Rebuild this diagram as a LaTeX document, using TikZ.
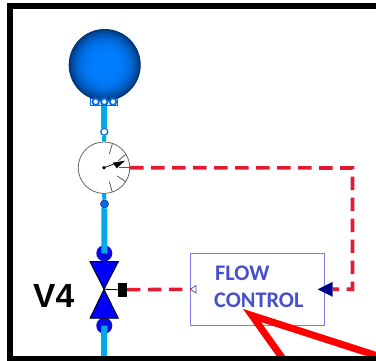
\documentclass[tikz,border=0pt]{standalone}
\usepackage{fontspec}
\setmainfont{Carlito}
\newfontfamily\labelfont{Liberation Sans}
\definecolor{pipeblue}{RGB}{0,170,232}
\definecolor{valveblue}{RGB}{0,0,255}
\definecolor{ringblue}{RGB}{10,10,225}
\definecolor{dashred}{RGB}{230,25,50}
\definecolor{ctrlblue}{RGB}{70,80,205}
\definecolor{boxblue}{RGB}{125,125,240}
\definecolor{arrownavy}{RGB}{0,0,130}
\definecolor{portblue}{RGB}{0,110,230}
\definecolor{vesselcore}{RGB}{0,125,255}
\definecolor{vesseldark}{RGB}{0,51,115}
\tikzset{
  pipe/.style={draw=pipeblue,line width=6pt},
  thinpipe/.style={draw=pipeblue,line width=4pt},
  signal/.style={draw=dashred,line width=3.6pt,dash pattern=on 13.5pt off 7.5pt},
  tick/.style={draw=black!65,line width=0.8pt},
  port/.style={circle,draw=portblue,fill=white,line width=1.8pt,minimum size=6.5pt,inner sep=0pt},
  ring/.style={circle,fill=ringblue,minimum size=16pt,inner sep=0pt},
  ptr/.style={draw=red,line width=7pt,line join=miter},
  ctrltext/.style={text=ctrlblue,font=\fontsize{22.3}{22.3}\selectfont\bfseries,anchor=base west,inner sep=0pt}
}
\begin{document}
\begin{tikzpicture}[x=1pt,y=-1pt]
\useasboundingbox (0,0) rectangle (376,361);
% named points
\coordinate (sigcorner) at (352.5,168);
\coordinate (sigcorner2) at (352.5,289.3);
\coordinate (navybase) at (332.7,289.3);
\coordinate (whitetip) at (190.5,289.3);
\coordinate (ptrtip) at (252,315.5);
\coordinate (ptrbottom) at (288,366);
\coordinate (ptrright) at (384,358);
\coordinate (pipeend) at (104,357);
% nodes under pipes
\node[port,minimum size=7pt,line width=1.3pt] (upperjoint) at (104.3,131.7) {};
\node[draw=portblue,fill=white,line width=0.8pt,minimum width=27pt,minimum height=7pt,inner sep=0pt] (portbar) at (104.3,101.7) {};
\node[ring] (valvetop) at (104.3,253.3) {};
\node[ring] (valvebot) at (104.3,325.7) {};
\node[circle,draw=black!60,fill=white,line width=0.8pt,minimum size=51.5pt,inner sep=0pt] (gauge) at (104,167.7) {};
\node[circle,fill=portblue,draw=ringblue!70!black,line width=0.5pt,minimum size=8pt,inner sep=0pt] (lowerjoint) at (104.5,204) {};
% pipes
\draw[pipe] (portbar.south) -- (upperjoint.north);
\draw[thinpipe] (upperjoint.south) -- (gauge.north);
\draw[thinpipe] (gauge.south) -- (lowerjoint.north);
\draw[pipe] (lowerjoint.south) -- (valvetop.center);
\draw[pipe] (valvebot.center) -- (pipeend);
% vessel: concentric discs give the soft dark rim
\coordinate (vessel) at (104.7,65);
\foreach \r in {36,35.5,...,0.5}{
  \pgfmathsetmacro{\p}{100*(\r/36)^4}
  \fill[vesseldark!\p!vesselcore] (vessel) circle (\r pt);
}
\node[port] (p1) at (95.7,101.7) {};
\node[port] (p2) at (104.3,101.7) {};
\node[port] (p3) at (113,101.7) {};
% gauge details
\draw[tick] (109.3,154) -- (112.3,144);
\draw[tick] (118.3,160.7) -- (126,154);
\draw[tick] (119.3,167.7) -- (130,167.7);
\draw[tick] (117.3,176) -- (125.7,181.7);
\draw[tick] (109.3,181.7) -- (112.3,192);
\fill[black] (gauge.center) circle (1.9pt);
\draw[black,line width=0.7pt] (gauge.center) -- (114,164);
\fill[black] (112.7,162.7) -- (125,160.7) -- (116.7,168.3) -- cycle;
% valve
\coordinate (valvemid) at (104,289.3);
\draw[black,line width=0.9pt,fill=valveblue] (90,261.7) -- (118.3,261.7) -- (valvemid) -- cycle;
\draw[black,line width=0.9pt,fill=valveblue] (90,318.3) -- (118.3,318.3) -- (valvemid) -- cycle;
\node[fill=black,minimum width=8.4pt,minimum height=14pt,inner sep=0pt] (actuator) at (122.5,289.7) {};
\draw[black,line width=0.8pt] (valvemid) -- (actuator.west);
\node[font=\labelfont\fontsize{33.5}{33.5}\selectfont\bfseries,anchor=base west,inner sep=0pt] (vlabel) at (33,307.3) {V4};
% control box
\node[draw=boxblue,line width=1pt,minimum width=133.3pt,minimum height=72pt,inner sep=0pt] (ctrl) at (257.4,289.3) {};
\node[ctrltext] (flowtxt) at (215,280.7) {FLOW};
\node[ctrltext] (ctrltxt) at (214,308) {CONTROL};
% signal lines
\draw[signal] (gauge.east) -- (sigcorner) -- (sigcorner2) -- (navybase);
\draw[signal] (actuator.east) -- (whitetip);
\fill[arrownavy] (332.7,281.8) -- (317.7,289.3) -- (332.7,296.8) -- cycle;
\draw[arrownavy!70,fill=white,line width=0.7pt] (whitetip) -- (196,285.5) -- (196,293) -- cycle;
% red pointers
\draw[ptr] (ptrbottom) -- (ptrtip) -- (ptrright);
% frame
\draw[black,line width=6pt] (380,6) -- (10.5,6) -- (10.5,358.7) -- (380,358.7);
\end{tikzpicture}
\end{document}
